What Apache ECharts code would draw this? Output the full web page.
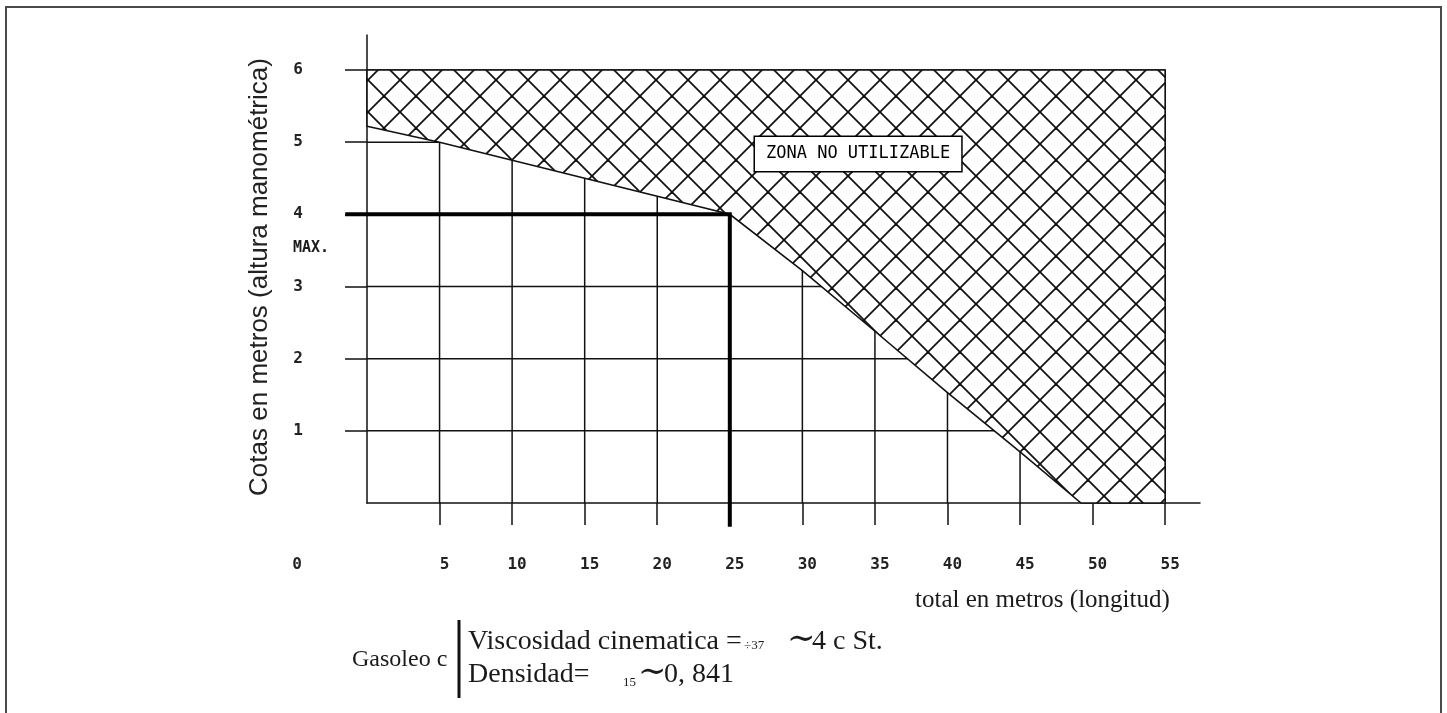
<!DOCTYPE html>
<html>
<head>
<meta charset="utf-8">
<title>Zona no utilizable - Gasoleo C</title>
<script src="https://cdn.jsdelivr.net/npm/echarts@6/dist/echarts.min.js"></script>
<style>
  html, body { margin: 0; padding: 0; background: #fff; }
  #chart { width: 1447px; height: 713px; }
</style>
</head>
<body>
<div id="chart"></div>
<script>
// marcas de los ejes
const xTicks = [0, 5, 10, 15, 20, 25, 30, 35, 40, 45, 50, 55]
const yTicks = [1, 2, 3, 4, 5, 6]
const xEnd = 55
const yEnd = 6

// límite inferior de la zona no utilizable (longitud, cota)
const limitX = [0, 5, 25, 30, 35, 40, 45, 49.2]
const limitY = [5.22, 5.0, 4.0, 3.22, 2.38, 1.53, 0.71, 0]

// cota máxima (trazo grueso)
const maxX = [-1.5, 25, 25]
const maxY = [4, 4, -0.33]

// etiqueta de la zona
const zonaPos = [33.84, 4.836]

const monoFont = '"DejaVu Sans Mono", monospace'
const ink = '#111'

// trama cruzada para la zona
const hatch = document.createElement('canvas')
hatch.width = 32
hatch.height = 32
const g = hatch.getContext('2d')
g.fillStyle = '#fff'
g.fillRect(0, 0, 32, 32)
g.strokeStyle = '#111'
g.lineWidth = 1.8
;[-32, 0, 32].forEach(k => {
  g.beginPath(); g.moveTo(k - 2, -2); g.lineTo(k + 34, 34); g.stroke()
  g.beginPath(); g.moveTo(k + 34, -2); g.lineTo(k - 2, 34); g.stroke()
})

// segmentos de la cuadrícula
const gridSegs = []
xTicks.filter(v => v > 0).forEach(x => gridSegs.push([x, 0, x, yEnd]))
yTicks.forEach(y => gridSegs.push([0, y, xEnd, y]))

const chart = echarts.init(document.getElementById('chart'))

const txt = (x, y, text, font) => ({
  type: 'text', silent: true, x, y,
  style: { text, font, fill: '#1a1a1a', align: 'left', verticalAlign: 'middle' }
})

const option = {
  animation: false,
  backgroundColor: '#fff',
  grid: { left: 367, top: 35, width: 833, height: 468 },
  xAxis: {
    type: 'value',
    min: 0,
    max: 57.4,
    interval: 5,
    axisLine: { lineStyle: { color: ink, width: 1.5 } },
    axisTick: { customValues: xTicks.filter(v => v > 0), length: 22, lineStyle: { color: ink, width: 1.5 } },
    axisLabel: {
      customValues: xTicks,
      margin: 54,
      padding: [0, 0, 0, 10],
      fontFamily: monoFont,
      fontSize: 16,
      fontWeight: 'bold',
      color: '#222',
      formatter: v => (v === 0 ? '{z|0}' : String(v)),
      rich: {
        z: { padding: [0, 150, 0, 0], fontFamily: monoFont, fontSize: 16, fontWeight: 'bold', color: '#222' }
      }
    },
    splitLine: { show: false }
  },
  yAxis: {
    type: 'value',
    min: 0,
    max: 6.485,
    interval: 1,
    name: 'Cotas en metros (altura manométrica)',
    nameLocation: 'middle',
    nameRotate: 90,
    nameGap: 94,
    nameTextStyle: { fontFamily: '"Liberation Sans", Arial, sans-serif', fontSize: 26, color: '#222', padding: [0, 16, 0, 0] },
    axisLine: { lineStyle: { color: ink, width: 1.5 } },
    axisTick: { customValues: yTicks, length: 22, lineStyle: { color: ink, width: 1.5 } },
    axisLabel: {
      customValues: yTicks,
      margin: 64,
      padding: [0, 0, 6, 0],
      fontFamily: monoFont,
      fontSize: 16,
      fontWeight: 'bold',
      color: '#222'
    },
    splitLine: { show: false }
  },
  series: [
    {
      // cuadrícula
      type: 'custom',
      z: 1,
      silent: true,
      encode: { x: [0, 2], y: [1, 3] },
      data: gridSegs,
      renderItem: (params, api) => {
        const a = api.coord([api.value(0), api.value(1)])
        const b = api.coord([api.value(2), api.value(3)])
        return {
          type: 'line',
          shape: { x1: a[0], y1: a[1], x2: b[0], y2: b[1] },
          style: { stroke: ink, lineWidth: 1.5 }
        }
      }
    },
    {
      // zona no utilizable
      type: 'custom',
      z: 3,
      silent: true,
      data: [0],
      renderItem: (params, api) => {
        const pts = limitX.map((x, i) => api.coord([x, limitY[i]]))
        pts.push(api.coord([xEnd, 0]), api.coord([xEnd, yEnd]), api.coord([0, yEnd]))
        return {
          type: 'polygon',
          shape: { points: pts },
          style: { fill: { image: hatch, repeat: 'repeat' }, stroke: ink, lineWidth: 1.6 }
        }
      }
    },
    {
      // cota máxima
      type: 'custom',
      z: 4,
      silent: true,
      data: [0],
      renderItem: (params, api) => ({
        type: 'polyline',
        shape: { points: maxX.map((x, i) => api.coord([x, maxY[i]])) },
        style: { stroke: '#000', lineWidth: 4, fill: null }
      })
    },
    {
      // rótulo de la zona
      type: 'custom',
      z: 5,
      silent: true,
      data: [zonaPos],
      renderItem: (params, api) => {
        const p = api.coord([api.value(0), api.value(1)])
        return {
          type: 'text',
          x: p[0],
          y: p[1],
          style: {
            text: 'ZONA NO UTILIZABLE',
            font: '17px "DejaVu Sans Mono"',
            fill: '#000',
            align: 'center',
            verticalAlign: 'middle',
            backgroundColor: '#fff',
            borderColor: '#000',
            borderWidth: 1.5,
            padding: [9, 11, 8, 11]
          }
        }
      }
    }
  ],
  graphic: [
    { type: 'rect', silent: true, shape: { x: 6, y: 7, width: 1435, height: 720 }, style: { fill: null, stroke: '#4a4a4a', lineWidth: 2 } },
    txt(293, 248, 'MAX.', 'bold 15px "DejaVu Sans Mono"'),
    txt(915, 600, 'total en metros (longitud)', '25px "Liberation Serif"'),
    txt(352, 660, 'Gasoleo c', '24px "Liberation Serif"'),
    { type: 'rect', silent: true, shape: { x: 457.5, y: 620, width: 3, height: 78 }, style: { fill: ink } },
    txt(468, 642, 'Viscosidad cinematica =', '28px "Liberation Serif"'),
    txt(744, 646, '÷37', '13px "Liberation Serif"'),
    txt(787, 640, '∼', '34px "DejaVu Serif"'),
    txt(812, 642, '4 c St.', '28px "Liberation Serif"'),
    txt(468, 675, 'Densidad=', '28px "Liberation Serif"'),
    txt(623, 683, '15', '13px "Liberation Serif"'),
    txt(638, 673, '∼', '34px "DejaVu Serif"'),
    txt(664, 675, '0, 841', '28px "Liberation Serif"')
  ]
}

chart.setOption(option)
</script>
</body>
</html>
